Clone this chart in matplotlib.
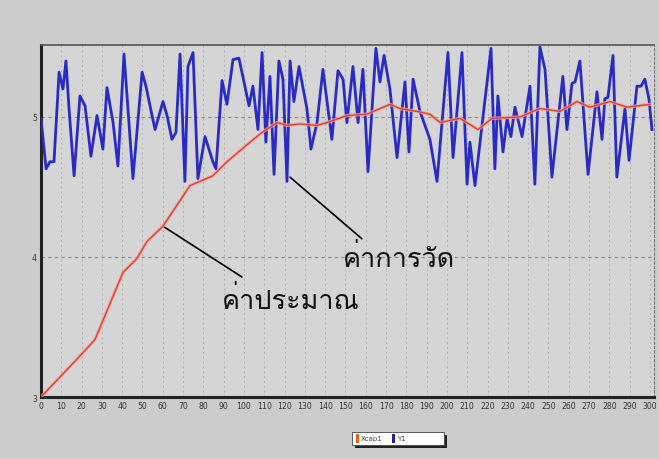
import matplotlib
matplotlib.use("Agg")
import matplotlib.pyplot as plt
from matplotlib import font_manager
from matplotlib.ft2font import FT2Font
from matplotlib.patches import Rectangle

# ---------------- data ----------------
y1_x = [0, 2.5, 4.4, 6.4, 8.9, 10.8, 12.3, 13.8, 16.3, 19.2, 21.7, 24.6, 27.6, 30.5,
        32.5, 35.5, 37.9, 40.9, 45.3, 49.8, 51.7, 54.7, 56.2, 60.1, 62.1, 64.5, 66.5,
        68.5, 70.9, 72.4, 74.9, 77.3, 80.8, 84.7, 86.2, 89.2, 91.6, 94.6, 97.5, 102.5,
        104.4, 106.9, 108.9, 110.8, 112.8, 114.8, 117.2, 119.2, 121.2, 122.7, 124.6,
        127.1, 131.0, 133.0, 136.0, 138.9, 143.3, 146.3, 148.8, 150.7, 153.7, 156.2,
        158.6, 161.1, 165.0, 167.0, 169.0, 171.9, 175.4, 179.3, 181.3, 183.3, 186.7,
        191.6, 195.1, 200.5, 203.0, 207.4, 209.9, 211.3, 213.8, 221.7, 223.6, 225.1,
        227.6, 229.6, 231.5, 233.5, 237.0, 240.9, 243.3, 245.8, 248.3, 251.7, 257.1,
        259.1, 261.6, 263.1, 265.5, 269.5, 273.9, 276.4, 277.8, 279.3, 281.8, 283.7,
        287.7, 289.7, 293.6, 295.6, 297.5, 299.5, 301.0]
y1_v = [4.99, 4.63, 4.68, 4.68, 5.32, 5.20, 5.40, 5.06, 4.58, 5.15, 5.08, 4.72, 5.01, 4.77,
        5.21, 4.96, 4.65, 5.45, 4.56, 5.32, 5.22, 5.01, 4.91, 5.11, 5.01, 4.84, 4.89,
        5.45, 4.54, 5.36, 5.46, 4.56, 4.86, 4.68, 4.63, 5.26, 5.09, 5.41, 5.42, 5.08,
        5.22, 4.91, 5.46, 4.82, 5.29, 4.59, 5.40, 5.27, 4.54, 5.40, 5.11,
        5.36, 5.06, 4.77, 4.96, 5.34, 4.84, 5.33, 5.27, 4.96, 5.36, 4.96,
        5.34, 4.61, 5.49, 5.25, 5.44, 5.20, 4.71, 5.25, 4.75, 5.27, 5.04,
        4.84, 4.54, 5.46, 4.71, 5.46, 4.52, 4.82, 4.51, 5.49, 4.63, 5.15,
        4.75, 4.99, 4.86, 5.07, 4.86, 5.22, 4.52, 5.50, 5.34, 4.57, 5.29,
        4.91, 5.24, 5.25, 5.40, 4.59, 5.18, 4.84, 5.13, 5.14, 5.44, 4.57,
        5.06, 4.69, 5.22, 5.22, 5.27, 5.13, 4.91]

xcap_x = [0, 17.7, 26.6, 40.4, 47.3, 52.2, 60.1, 73.4, 78.3, 84.7, 91.6, 103, 108.9,
          116.3, 121.2, 127.6, 136, 140.9, 150.7, 160.6, 171.9, 176.8, 185.2, 191.6,
          196.6, 206.4, 215.3, 222.2, 236, 245.8, 255.7, 264, 270.4, 280.3, 288.7, 300]
xcap_v = [3.0, 3.27, 3.41, 3.89, 3.99, 4.11, 4.22, 4.51, 4.54, 4.58, 4.68, 4.82, 4.89,
          4.96, 4.94, 4.95, 4.94, 4.96, 5.01, 5.02, 5.09, 5.06, 5.04, 5.02,
          4.96, 4.99, 4.91, 4.99, 5.00, 5.06, 5.04, 5.11, 5.07, 5.11, 5.07, 5.09]

x_ticks = list(range(0, 301, 10))
y_ticks = [3, 4, 5]
series_names = ["Xcap1", "Y1"]
label_est = "ค่าประมาณ"
label_meas = "ค่าการวัด"

# ---------------- font with Thai glyphs ----------------
thai_family = None
for fe in font_manager.fontManager.ttflist:
    try:
        cm = FT2Font(fe.fname).get_charmap()
        if 0x0E04 in cm and 0x0E32 in cm:
            thai_family = fe.name
            break
    except Exception:
        continue
fam = [thai_family, "DejaVu Sans"] if thai_family else ["DejaVu Sans"]

# ---------------- figure ----------------
fig = plt.figure(figsize=(6.59, 4.60), dpi=100)
fig.patch.set_facecolor("#cccccc")
ax = fig.add_axes([41 / 659, 1 - 398 / 460, 613 / 659, 352 / 460])
ax.set_facecolor("#d5d5d5")

ax.set_xlim(0, 302)
ax.set_ylim(3, 5.514)

# grid
for xv in x_ticks[1:]:
    ax.axvline(xv, color="#b0b0b0", lw=0.7, ls=(0, (2, 3)), zorder=1)
for yv in [4, 5]:
    ax.axhline(yv, color="#8a8a8a", lw=0.8, ls=(0, (3, 3)), zorder=1)

ax.plot(y1_x, y1_v, color="#2a2ac4", lw=2.0, zorder=3, solid_joinstyle="round")
ax.plot(xcap_x, xcap_v, color="#f0a0a0", lw=2.4, zorder=4, alpha=0.8)
ax.plot(xcap_x, xcap_v, color="#e0402a", lw=1.0, zorder=5)

ax.set_xticks(x_ticks)
ax.set_xticklabels([str(t) for t in x_ticks], fontsize=5.6, color="#333333")
ax.set_yticks(y_ticks)
ax.set_yticklabels([str(t) for t in y_ticks], fontsize=5.6, color="#333333")
ax.tick_params(axis="both", length=0, pad=3)

for s in ["left", "bottom"]:
    ax.spines[s].set_color("#222222")
    ax.spines[s].set_linewidth(2.2)
ax.spines["top"].set_color("#555555")
ax.spines["top"].set_linewidth(1.2)
ax.spines["right"].set_color("#777777")
ax.spines["right"].set_linewidth(0.8)
ax.spines["right"].set_linestyle((0, (2, 2)))

# annotations (leader lines + labels)
ax.annotate("", xy=(60.1, 4.22), xytext=(99, 3.857),
            arrowprops=dict(arrowstyle="-", color="black", lw=1.2, shrinkA=0, shrinkB=0))
ax.text(89.2, 3.70, label_est, fontsize=19.5, family=fam, color="#111111",
        ha="left", va="center", zorder=6)
ax.annotate("", xy=(122.7, 4.57), xytext=(158.1, 4.13),
            arrowprops=dict(arrowstyle="-", color="black", lw=1.2, shrinkA=0, shrinkB=0))
ax.text(148.8, 4.00, label_meas, fontsize=19.5, family=fam, color="#111111",
        ha="left", va="center", zorder=6)

# legend
lx0, ly0, lw_, lh_ = 352 / 659, 1 - 446 / 460, 92 / 659, 13 / 460
fig.patches.append(Rectangle((lx0 + 0.004, ly0 - 0.006), lw_, lh_, transform=fig.transFigure,
                             facecolor="#222222", edgecolor="none", zorder=5))
fig.patches.append(Rectangle((lx0, ly0), lw_, lh_, transform=fig.transFigure,
                             facecolor="white", edgecolor="#444444", lw=0.6, zorder=6))
fig.patches.append(Rectangle((lx0 + 0.006, ly0 + 0.005), 0.005, lh_ - 0.01,
                             transform=fig.transFigure, facecolor="#e06020",
                             edgecolor="none", zorder=7))
fig.text(lx0 + 0.014, ly0 + lh_ / 2, series_names[0], fontsize=5, color="#444444",
         va="center", ha="left", zorder=8)
fig.patches.append(Rectangle((lx0 + 0.060, ly0 + 0.005), 0.005, lh_ - 0.01,
                             transform=fig.transFigure, facecolor="#2020a0",
                             edgecolor="none", zorder=7))
fig.text(lx0 + 0.069, ly0 + lh_ / 2, series_names[1], fontsize=5, color="#444444",
         va="center", ha="left", zorder=8)

fig.savefig("out.png", dpi=100, facecolor=fig.get_facecolor())
